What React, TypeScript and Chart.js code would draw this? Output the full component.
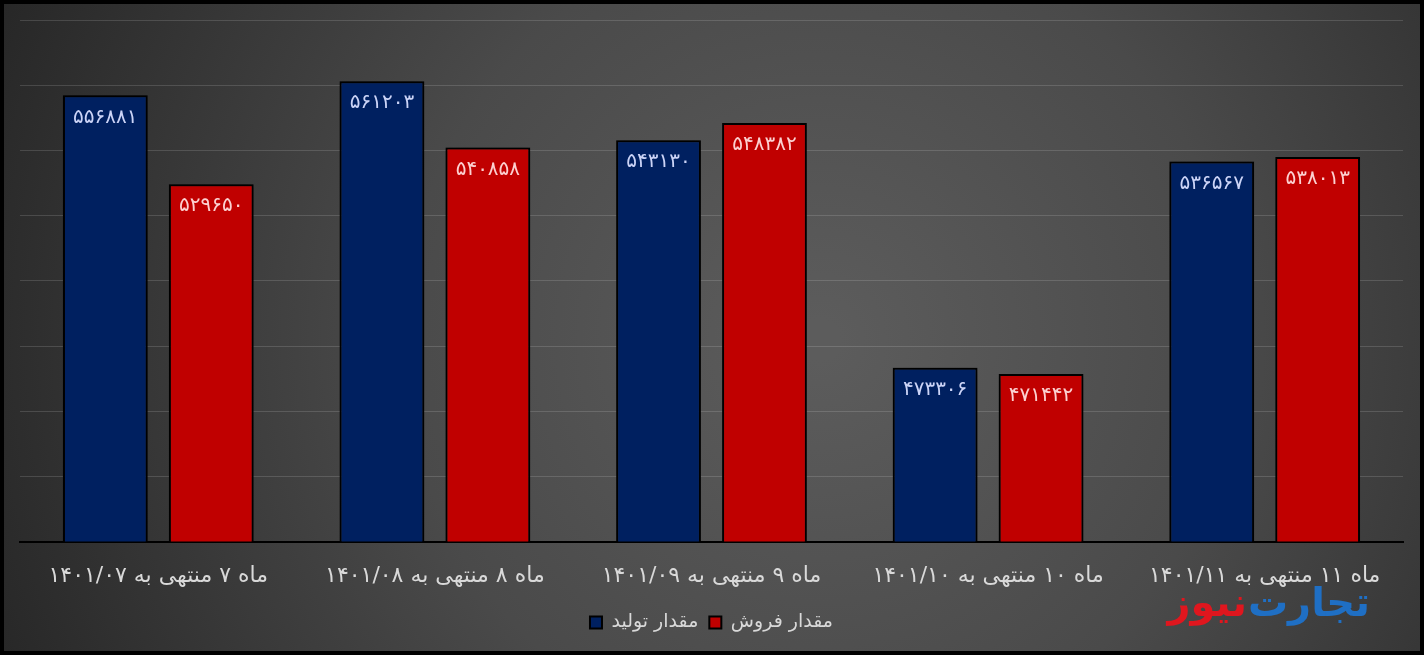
import React, { useEffect, useRef } from "react";
import { Chart, registerables } from "chart.js";

Chart.register(...registerables);

const categories = [
  "ماه ۷ منتهی به ۱۴۰۱/۰۷",
  "ماه ۸ منتهی به ۱۴۰۱/۰۸",
  "ماه ۹ منتهی به ۱۴۰۱/۰۹",
  "ماه ۱۰ منتهی به ۱۴۰۱/۱۰",
  "ماه ۱۱ منتهی به ۱۴۰۱/۱۱",
];
const productionLabel = "مقدار تولید";
const salesLabel = "مقدار فروش";
const production = [556881, 561203, 543130, 473306, 536567];
const sales = [529650, 540858, 548382, 471442, 538013];
const yMin = 420000;
const yMax = 580000;
const yStep = 20000;
const watermarkBlue = "تجارت";
const watermarkRed = "نیوز";

const toPersian = (n: number) =>
  String(n).replace(/[0-9]/g, (d) => "۰۱۲۳۴۵۶۷۸۹"[Number(d)]);

const FONT = "'DejaVu Sans', 'Noto Sans', sans-serif";

const bgPlugin = {
  id: "bg",
  beforeDraw(chart: any) {
    const { ctx, width, height } = chart;
    ctx.save();
    const g = ctx.createRadialGradient(820, 340, 20, 820, 340, 900);
    g.addColorStop(0, "#5c5c5c");
    g.addColorStop(0.45, "#4a4a4a");
    g.addColorStop(1, "#262626");
    ctx.fillStyle = g;
    ctx.fillRect(0, 0, width, height);
    ctx.fillStyle = "#000";
    ctx.fillRect(0, 0, width, 4);
    ctx.fillRect(0, 0, 4, height);
    ctx.fillRect(width - 4, 0, 4, height);
    ctx.fillRect(0, height - 4, width, 4);
    ctx.restore();
  },
  beforeDatasetsDraw(chart: any) {
    const ctx = chart.ctx;
    ctx.save();
    ctx.shadowColor = "rgba(0,0,0,0.55)";
    ctx.shadowBlur = 8;
    ctx.shadowOffsetX = 0;
    ctx.shadowOffsetY = 0;
  },
  afterDatasetsDraw(chart: any) {
    const ctx = chart.ctx;
    ctx.restore();
    ctx.save();
    ctx.font = `20px ${FONT}`;
    ctx.textAlign = "center";
    ctx.textBaseline = "middle";
    chart.data.datasets.forEach((ds: any, i: number) => {
      const meta = chart.getDatasetMeta(i);
      meta.data.forEach((bar: any, j: number) => {
        ctx.fillStyle = i === 0 ? "rgba(215,222,255,0.95)" : "rgba(255,220,220,0.95)";
        ctx.fillText(toPersian(ds.data[j]), bar.x, bar.y + 22);
      });
    });
    ctx.restore();
  },
  afterDraw(chart: any) {
    const ctx = chart.ctx;
    ctx.save();
    ctx.font = `bold 40px ${FONT}`;
    ctx.textBaseline = "middle";
    ctx.textAlign = "right";
    const right = 1370;
    const y = 606;
    ctx.fillStyle = "#1f6fc4";
    ctx.fillText(watermarkBlue, right, y);
    const w = ctx.measureText(watermarkBlue).width;
    ctx.fillStyle = "#e0161e";
    ctx.fillText(watermarkRed, right - w - 1, y);
    ctx.restore();
  },
};

export default function App() {
  const ref = useRef<HTMLCanvasElement>(null);
  useEffect(() => {
    document.body.style.margin = "0";
    const chart = new Chart(ref.current!, {
      type: "bar",
      data: {
        labels: categories,
        datasets: [
          {
            label: productionLabel,
            data: production,
            backgroundColor: "#002060",
            borderColor: "#000000",
            borderWidth: 2,
            categoryPercentage: 0.766,
            barPercentage: 0.8,
          },
          {
            label: salesLabel,
            data: sales,
            backgroundColor: "#c00000",
            borderColor: "#000000",
            borderWidth: 2,
            categoryPercentage: 0.766,
            barPercentage: 0.8,
          },
        ],
      },
      options: {
        animation: false,
        responsive: false,
        layout: { padding: { top: 20, left: 20, right: 21, bottom: 13 } },
        scales: {
          x: {
            grid: { display: false },
            border: { display: true, color: "#000000", width: 2 },
            ticks: {
              color: "#d9d9d9",
              font: { size: 22, family: FONT },
              padding: 13,
              maxRotation: 0,
            },
          },
          y: {
            min: yMin,
            max: yMax,
            border: { display: false },
            grid: { color: "rgba(255,255,255,0.14)", lineWidth: 1, drawTicks: false },
            ticks: { display: false, stepSize: yStep },
          },
        },
        plugins: {
          legend: {
            position: "bottom",
            labels: {
              color: "#d9d9d9",
              font: { size: 19, family: FONT },
              boxWidth: 12,
              boxHeight: 12,
              padding: 11,
            },
          },
          tooltip: { enabled: false },
        },
      },
      plugins: [bgPlugin],
    });
    return () => chart.destroy();
  }, []);
  return (
    <div style={{ width: 1424, height: 655 }}>
      <canvas ref={ref} width={1424} height={655} dir="rtl" />
    </div>
  );
}
